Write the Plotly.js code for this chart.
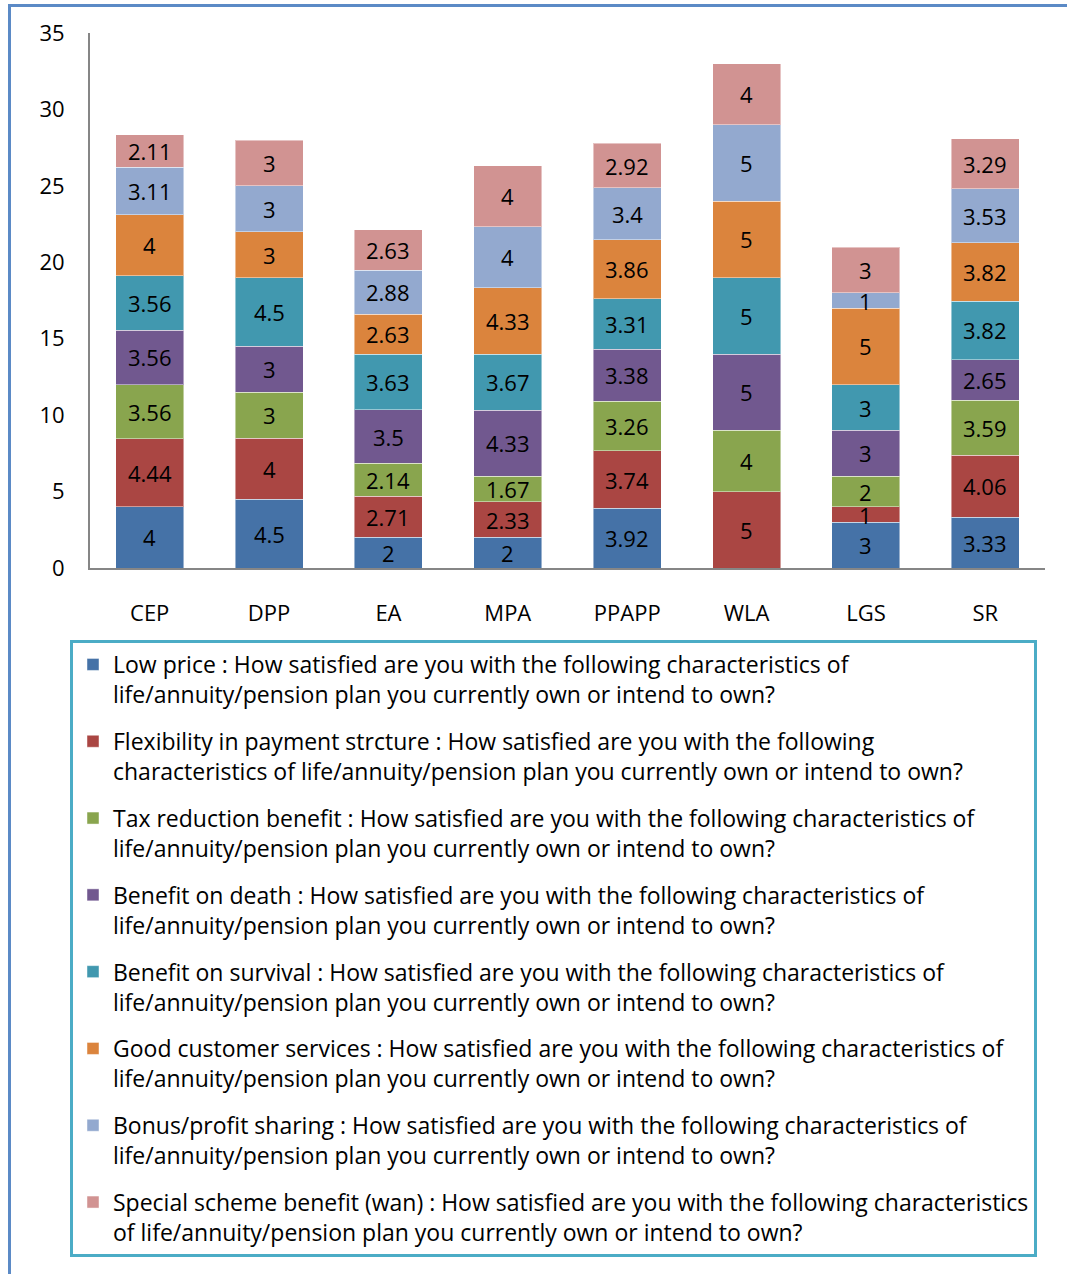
<!DOCTYPE html>
<html>
<head>
<meta charset="utf-8">
<script src="https://cdn.plot.ly/plotly-3.0.1.min.js"></script>
<style>
html,body{margin:0;padding:0;background:#fff;}
#chart{width:1067px;height:1274px;}
</style>
</head>
<body>
<div id="chart"></div>
<script>
const categories = ["CEP", "DPP", "EA", "MPA", "PPAPP", "WLA", "LGS", "SR"];

const lowPrice        = [4,    4.5, 2,    2,    3.92, null, 3, 3.33];
const flexibility     = [4.44, 4,   2.71, 2.33, 3.74, 5,    1, 4.06];
const taxReduction    = [3.56, 3,   2.14, 1.67, 3.26, 4,    2, 3.59];
const benefitDeath    = [3.56, 3,   3.5,  4.33, 3.38, 5,    3, 2.65];
const benefitSurvival = [3.56, 4.5, 3.63, 3.67, 3.31, 5,    3, 3.82];
const customerService = [4,    3,   2.63, 4.33, 3.86, 5,    5, 3.82];
const bonusProfit     = [3.11, 3,   2.88, 4,    3.4,  5,    1, 3.53];
const specialScheme   = [2.11, 3,   2.63, 4,    2.92, 4,    3, 3.29];

const seriesNames = [
  "Low price : How satisfied are you with the following characteristics of<br>life/annuity/pension plan you currently own or intend to own?",
  "Flexibility in payment strcture : How satisfied are you with the following<br>characteristics of life/annuity/pension plan you currently own or intend to own?",
  "Tax reduction benefit : How satisfied are you with the following characteristics of<br>life/annuity/pension plan you currently own or intend to own?",
  "Benefit on death : How satisfied are you with the following characteristics of<br>life/annuity/pension plan you currently own or intend to own?",
  "Benefit on survival : How satisfied are you with the following characteristics of<br>life/annuity/pension plan you currently own or intend to own?",
  "Good customer services : How satisfied are you with the following characteristics of<br>life/annuity/pension plan you currently own or intend to own?",
  "Bonus/profit sharing : How satisfied are you with the following characteristics of<br>life/annuity/pension plan you currently own or intend to own?",
  "Special scheme benefit (wan) : How satisfied are you with the following characteristics<br>of life/annuity/pension plan you currently own or intend to own?"
];

const seriesValues = [lowPrice, flexibility, taxReduction, benefitDeath, benefitSurvival, customerService, bonusProfit, specialScheme];
const seriesColors = ["#4572A7", "#AA4643", "#89A54E", "#71588F", "#4198AF", "#DB843D", "#93A9CF", "#D19392"];

const FONT = "Open Sans, Liberation Sans, sans-serif";

const traces = seriesValues.map((vals, i) => ({
  type: "bar",
  name: seriesNames[i],
  x: categories,
  y: vals,
  legendgroup: "g" + i,
  marker: {color: seriesColors[i], line: {color: "rgba(255,255,255,0.45)", width: 1}},
  hoverinfo: "x+y"
}));

// labels centered in each stacked segment (data coordinates)
const annotations = [];
const base = categories.map(() => 0);
seriesValues.forEach(vals => {
  vals.forEach((v, j) => {
    if (v === null || v === 0) return;
    annotations.push({
      x: categories[j], y: base[j] + v / 2, xref: "x", yref: "y",
      text: String(v), showarrow: false,
      font: {family: FONT, size: 22, color: "#000"}
    });
    base[j] += v;
  });
});

const L = 90, R = 22, T = 33, B = 706, W = 1067, H = 1274;
const pw = W - L - R, ph = H - T - B;
const px = p => (p - L) / pw;
const py = p => (H - B - p) / ph;

const layout = {
  width: W, height: H,
  margin: {l: L, r: R, t: T, b: B},
  paper_bgcolor: "#fff", plot_bgcolor: "#fff",
  barmode: "stack",
  bargap: 0.43,
  font: {family: FONT, size: 22, color: "#000"},
  showlegend: true,
  xaxis: {
    type: "category",
    showline: true, linecolor: "#868686", linewidth: 2,
    showgrid: false, zeroline: false,
    ticks: "outside", ticklen: 25, tickcolor: "rgba(0,0,0,0)",
    tickfont: {family: FONT, size: 22, color: "#000"},
    fixedrange: true
  },
  yaxis: {
    range: [0, 35], dtick: 5, tick0: 0,
    showline: true, linecolor: "#868686", linewidth: 2,
    showgrid: false, zeroline: false,
    ticks: "outside", ticklen: 19, tickcolor: "rgba(0,0,0,0)",
    tickfont: {family: FONT, size: 22, color: "#000"},
    fixedrange: true
  },
  legend: {
    x: px(70), y: py(640), xanchor: "left", yanchor: "top",
    orientation: "v", traceorder: "grouped", valign: "top",
    bordercolor: "#4BACC6", borderwidth: 3, bgcolor: "#fff",
    font: {family: FONT, size: 23, color: "#000"},
    tracegroupgap: 14,
    itemwidth: 30
  },
  annotations: annotations,
  shapes: [
    {type: "line", xref: "paper", yref: "paper", x0: px(9.5), x1: px(9.5), y0: py(4), y1: py(1274), line: {color: "#5B8AC6", width: 3}},
    {type: "line", xref: "paper", yref: "paper", x0: px(8), x1: px(1067), y0: py(5.5), y1: py(5.5), line: {color: "#5B8AC6", width: 3}}
  ]
};

Plotly.newPlot("chart", traces, layout, {displayModeBar: false, staticPlot: true});
</script>
</body>
</html>
